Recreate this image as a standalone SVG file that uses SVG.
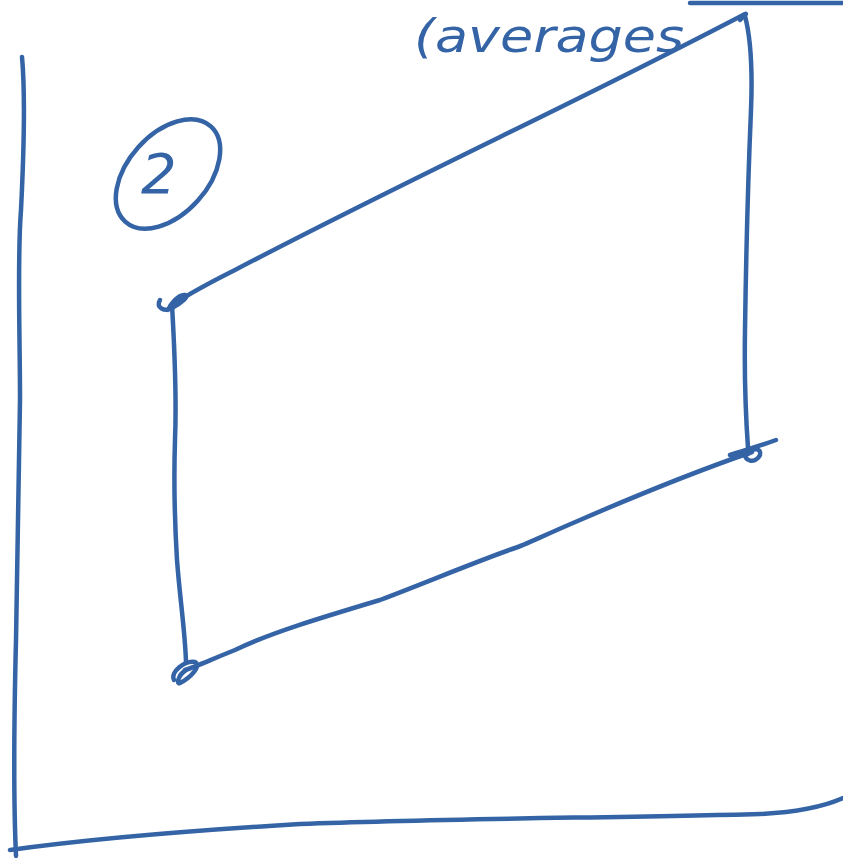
<svg xmlns="http://www.w3.org/2000/svg" width="843" height="862" viewBox="0 0 843 862">
<style>
.s{fill:none;stroke:#3464a6;stroke-width:4.5;stroke-linecap:round;stroke-linejoin:round}
.t{fill:#3464a6;font-family:"DejaVu Sans","Liberation Sans",sans-serif;font-style:italic}
</style>
<rect width="843" height="862" fill="#fff"/>
<g id="frame">
<path class="s" d="M22,57 C25,90 24,150 21,210 C17,260 20,330 20,400 C19,480 17,560 16,640 C14,720 13,790 16,856"/>
<path class="s" d="M10,850 C60,843 150,833 300,824 C450,818 620,818 760,814 C800,812 825,806 843,798"/>
<path class="s" d="M690,3 L843,3"/>
</g>
<g id="label-top">
<text class="t" x="414" y="52" font-size="46" textLength="270" lengthAdjust="spacingAndGlyphs">(averages</text>
</g>
<g id="label-2">
<ellipse class="s" cx="168" cy="174" rx="64" ry="40" transform="rotate(-48 168 174)"/>
<text class="t" x="141" y="193" font-size="56" font-style="normal">2</text>
</g>
<g id="connectors">
<path class="s" d="M172,305 C195,290 215,280 235,270 C300,236 400,186 500,137 C600,88 680,48 745,14"/>
<path class="s" d="M745,16 C750,35 753,60 751,110 C748,180 746,260 745,330 C744,390 746,420 748,448"/>
<path class="s" d="M730,455 C745,450 760,446 776,440 M752,452 C700,470 640,494 580,520 C540,537 525,545 515,548 C480,560 420,585 380,600 C320,618 270,633 235,650 C210,660 195,667 185,670"/>
<path class="s" d="M172,305 C174,340 177,390 175,440 C174,470 174,510 177,560 C180,600 185,630 186,662"/>
</g>
<g id="node-tl"><path class="s" d="M160,300 C155,308 165,312 172,308 C180,304 190,296 185,295 C178,294 170,305 168,310"/></g>
<g id="node-tr"><path class="s" d="M740,20 L746,14"/></g>
<g id="node-br"><path class="s" d="M746,452 C742,462 756,464 760,455 C762,448 752,447 748,454"/></g>
<g id="node-bl"><path class="s" d="M174,680 C170,672 185,660 195,662 C202,666 190,678 180,683 C176,685 178,675 186,670"/></g>
</svg>
